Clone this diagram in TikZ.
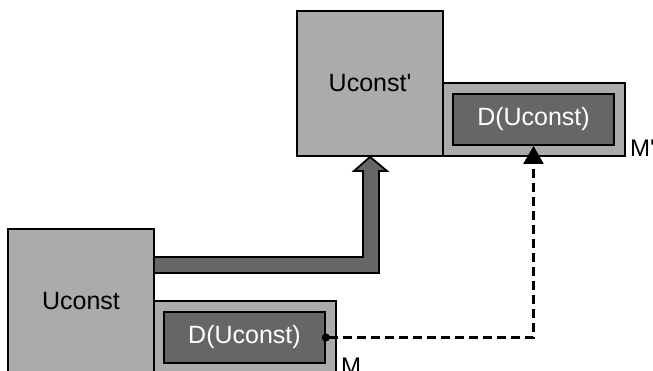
\documentclass[tikz,border=0pt]{standalone}
\usepackage{fontspec}
\setmainfont{Liberation Sans}
\usetikzlibrary{arrows.meta}
\definecolor{lightgrey}{HTML}{ABABAB}
\definecolor{darkgrey}{HTML}{666666}
\tikzset{
  bigbox/.style={draw=black, fill=lightgrey, line width=1.8pt, minimum width=146pt, minimum height=145pt, font=\fontsize{25}{30}\selectfont},
  mbox/.style={draw=black, fill=lightgrey, line width=1.8pt, minimum width=182pt, minimum height=73pt},
  dbox/.style={draw=black, fill=darkgrey, text=white, line width=1.8pt, minimum width=161pt, minimum height=51pt, font=\fontsize{25}{30}\selectfont},
  mlabel/.style={anchor=south west, inner sep=0pt, font=\fontsize{24}{28}\selectfont},
  fatarrow/.style={draw=black, fill=darkgrey, line width=1.8pt, line join=miter},
  dashlink/.style={line width=2.2pt, dash pattern=on 9pt off 5pt}
}
\begin{document}
\begin{tikzpicture}[x=1pt, y=-1pt]
			%%%%% START %%%%%
			\useasboundingbox (0, 0) rectangle (653, 371);
			
			% target state
			\node[mbox] (mtop) at (534, 119.5) {};
			\node[bigbox] (ucp) at (370, 83.5) {Uconst\textquotesingle};
			\node[dbox] (dtop) at (533.5, 119.5) {D(Uconst)};
			\node[mlabel] (mtoplab) at ([xshift=4pt]mtop.south east) {M\textquotesingle};
			
			% source state
			\node[mbox] (mbot) at (245, 337.5) {};
			\node[bigbox] (uc) at (81, 301.5) {Uconst};
			\node[dbox] (dbot) at (244.5, 337.5) {D(Uconst)};
			\node[mlabel] (mbotlab) at ([xshift=4pt]mbot.south east) {M};
			
			% transition
			\draw[fatarrow] (uc.east |- 0,257) -- (363, 257) -- (363, 171) -- (354, 171)
				-- (ucp.south) -- (387, 171) -- (379, 171) -- (379, 273) -- (uc.east |- 0,273);
			
			\draw[dashlink, {Circle[length=8pt]}-{Triangle[width=20pt, length=18pt]}]
				([xshift=-4pt]dbot.east) -| (dtop.south);
			
			%%%%% END %%%%%
\end{tikzpicture}
\end{document}
